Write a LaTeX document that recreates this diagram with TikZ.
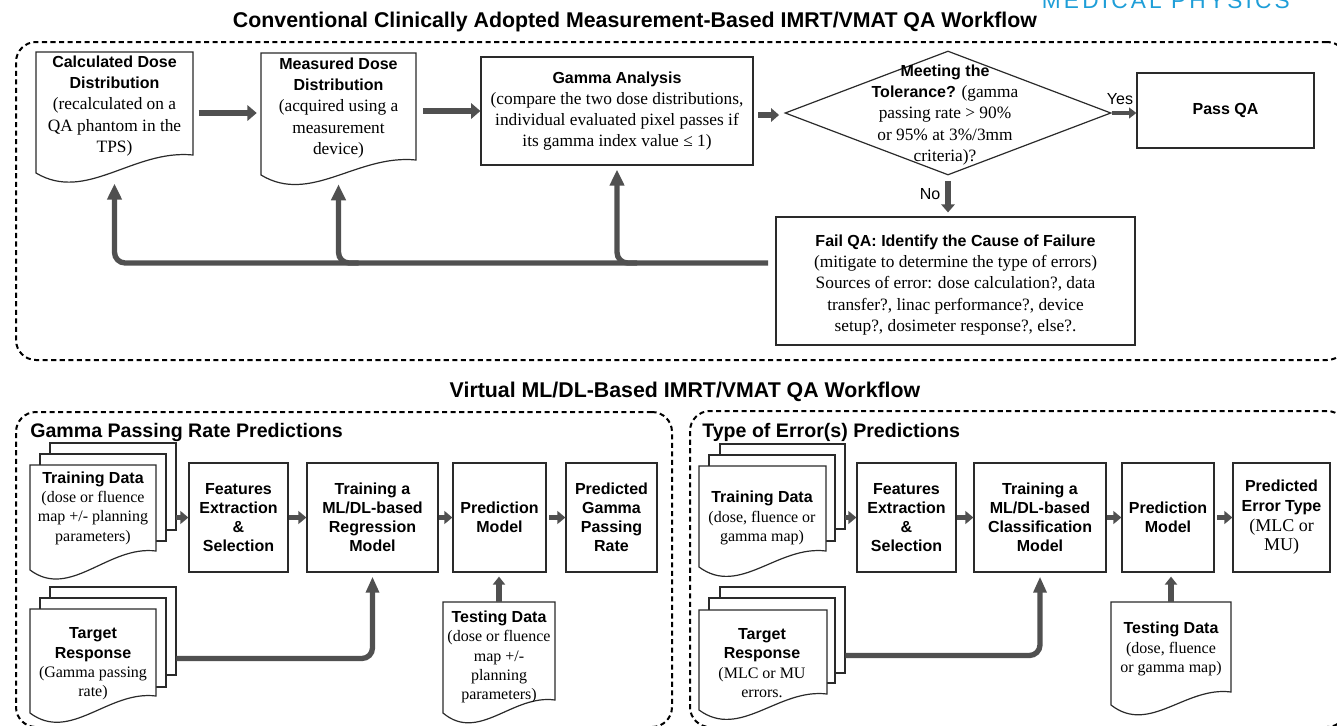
\documentclass[tikz,border=0pt]{standalone}
\usepackage{fontspec}
\setmainfont{Liberation Serif}
\setsansfont{Liberation Sans}
\newfontfamily\wmfont[LetterSpace=14]{Liberation Sans}
\usetikzlibrary{arrows.meta,shapes.geometric,fit,calc}
\definecolor{arr}{HTML}{505050}
\definecolor{wmblue}{HTML}{1E9ED8}
\definecolor{ln}{HTML}{2A2A2A}
\newcommand\hbt[1]{{\sffamily\bfseries\fontsize{12}{15.9}\selectfont #1}}
\newcommand\hbb[1]{{\sffamily\bfseries\fontsize{12}{14.5}\selectfont #1}}
\newcommand\docshape[6][]{\draw[docline,#1] (#2,#3) -- (#4,#3) -- (#4,#5) .. controls ({#2+0.62*(#4-#2)},{#5-6}) and ({#2+0.32*(#4-#2)},{#6+30}) .. (#2,#6) -- cycle;}
\begin{document}
\begin{tikzpicture}[x=0.75pt,y=-0.75pt,
 docline/.style={draw=ln, line width=0.9pt, fill=white},
 pg/.style={draw=ln, line width=0.9pt, fill=white},
 bx/.style={draw=ln, line width=0.9pt, inner sep=0pt, align=center},
 cbox/.style 2 args={minimum width={#1*0.75pt}, minimum height={#2*0.75pt}},
 hid/.style={inner sep=0pt},
 topf/.style={font=\fontsize{13}{15.9}\selectfont, align=center, inner sep=0pt},
 botf/.style={font=\fontsize{12}{14.5}\selectfont, align=center, inner sep=0pt},
 botb/.style={font=\sffamily\bfseries\fontsize{12}{14.3}\selectfont},
 ttl/.style={font=\sffamily\bfseries\fontsize{16}{18}\selectfont, inner sep=0pt},
 subt/.style={font=\sffamily\bfseries\fontsize{14.7}{17}\selectfont, inner sep=0pt, anchor=west},
 dframe/.style={draw=black, line width=1.5pt, dash pattern=on 3.8pt off 2.6pt, rounded corners=15pt, inner sep=0pt},
 marr/.style={draw=arr, line width=5pt, -{Triangle[length=7pt,width=11.5pt]}},
 carr/.style={draw=arr, line width=4.2pt, -{Triangle[length=6pt,width=10pt]}},
 yarr/.style={draw=arr, line width=3pt, -{Triangle[length=5.5pt,width=8pt]}},
 fb/.style={draw=arr, line width=4pt, rounded corners=8pt, -{Triangle[length=12pt,width=10.5pt]}},
 sarr/.style={draw=arr, line width=3.5pt, -{Triangle[length=6pt,width=9.5pt]}},
 uarr/.style={draw=arr, line width=4pt, -{Triangle[length=6pt,width=9pt]}},
 larr/.style={draw=arr, line width=4pt, rounded corners=8pt, -{Triangle[length=12pt,width=9.5pt]}},
 lbl/.style={font=\sffamily\fontsize{12}{14}\selectfont, inner sep=0pt}
]
\clip (0,0) rectangle (1337,725);
\fill[white] (0,0) rectangle (1337,725);

% watermark (cut off at the top)
\node[anchor=base east, text=wmblue, font=\wmfont\fontsize{17}{17}\selectfont, inner sep=0pt] (wm) at (1290,8) {MEDICAL PHYSICS};

% ---------------- top section ----------------
\node[ttl] (t1) at (635,22) {Conventional Clinically Adopted Measurement-Based IMRT/VMAT QA Workflow};
\node[dframe, fit={(16,42)(1347,360)}] (topframe) {};

% calculated dose
\docshape{36}{52}{193}{155}{173}
\node[hid, fit={(36,52)(193,182)}] (calc) {};
\node[topf] (calctxt) at (114.5,106) {\hbt{Calculated Dose}\\\hbt{Distribution}\\(recalculated on a\\QA phantom in the\\TPS)};

% measured dose
\docshape{261}{53}{416}{160}{175}
\node[hid, fit={(261,53)(416,184)}] (meas) {};
\node[topf] (meastxt) at (338.5,108) {\hbt{Measured Dose}\\\hbt{Distribution}\\(acquired using a\\measurement\\device)};

% gamma analysis
\node[bx, topf, draw=ln, line width=0.9pt, cbox={272}{108}] (gamma) at (617,111) {\hbt{Gamma Analysis}\\(compare the two dose distributions,\\individual evaluated pixel passes if\\its gamma index value ≤ 1)};

% tolerance diamond
\node[draw=ln, line width=0.9pt, diamond, minimum width=244.5pt, minimum height=93pt, inner sep=0pt] (tol) at (948,113) {};
\node[topf] (toltxt) at (945,115) {\hbt{Meeting the}\\\hbt{Tolerance?} (gamma\\passing rate > 90\%\\or 95\% at 3\%/3mm\\criteria)?};

% pass
\node[bx, cbox={177}{75}] (pass) at (1225.5,110.5) {\hbt{Pass QA}};

% fail
\node[bx, draw=ln, line width=0.9pt, cbox={359}{128}] (fail) at (955.5,281) {};
\node[topf] (failtxt) at (955.5,285) {\hbt{Fail QA: Identify the Cause of Failure}\\(mitigate to determine the type of errors)\\Sources of error: dose calculation?, data\\transfer?, linac performance?, device\\setup?, dosimeter response?, else?.};

% arrows top
\coordinate (ya) at (0,113);
\coordinate (yb) at (0,111);
\coordinate (yc) at (0,115);
\draw[marr, shorten <=4pt, shorten >=3pt] (calc.east |- ya) -- (meas.west |- ya);
\draw[marr, shorten <=5pt] (meas.east |- yb) -- (gamma.west |- yb);
\draw[carr, shorten <=3.5pt, shorten >=4pt] (gamma.east |- yc) -- (tol.west |- yc);
\draw[yarr] (tol.east) -- (pass.west |- tol.east);
\node[lbl] (yes) at (1120,99) {Yes};
\draw[carr, shorten <=4pt, shorten >=3pt] (tol.south) -- (fail.north -| tol.south);
\node[lbl] (no) at (930,194) {No};

% feedback loop
\coordinate (fbs) at (768,263);
\draw[fb, shorten >=1pt] (fbs) -| (calc.south);
\draw[fb] ($(meas.south |- fbs)+(20,0)$) -| (meas.south);
\draw[fb, shorten >=3pt] ($(gamma.south |- fbs)+(20,0)$) -| (gamma.south);

% ---------------- bottom section ----------------
\node[ttl] (t2) at (685,392) {Virtual ML/DL-Based IMRT/VMAT QA Workflow};
\node[dframe, fit={(16,412)(672,727)}] (leftframe) {};
\node[dframe, fit={(690,411)(1347,727)}] (rightframe) {};
\node[subt] (sub1) at (30,432) {Gamma Passing Rate Predictions};
\node[subt] (sub2) at (702,432) {Type of Error(s) Predictions};

% ---- left panel ----
\draw[pg] (50,443) rectangle (176,530);
\draw[pg] (40,454) rectangle (166,541);
\docshape{30}{465}{156}{551}{570}
\node[hid, fit={(30,443)(176,570)}] (trdL) {};
\node[botf] (trdLtxt) at (93,508) {\hbb{Training Data}\\(dose or fluence\\map +/- planning\\parameters)};

\node[bx, botb, cbox={99}{109}] (featL) at (238.5,517.5) {Features\\Extraction\\\&\\Selection};
\node[bx, botb, cbox={131}{109}] (trainL) at (372.5,517.5) {Training a\\ML/DL-based\\Regression\\Model};
\node[bx, botb, cbox={93}{109}] (predL) at (499.5,517.5) {Prediction\\Model};
\node[bx, botb, cbox={91}{109}] (outL) at (611.5,517.5) {Predicted\\Gamma\\Passing\\Rate};

\docshape{443}{602}{555}{700}{713}
\node[hid, fit={(443,602)(555,720)}] (testL) {};
\node[botf] (testLtxt) at (499,657) {\hbb{Testing Data}\\(dose or fluence\\map +/-\\planning\\parameters)};

\draw[pg] (50,587) rectangle (176,675);
\draw[pg] (40,598) rectangle (166,687);
\docshape{30}{609}{156}{696}{713}
\node[hid, fit={(30,587)(176,720)}] (tgtL) {};
\node[botf] (tgtLtxt) at (93,664) {\hbb{Target}\\\hbb{Response}\\(Gamma passing\\rate)};

\draw[sarr] (trdL.east |- featL.west) -- (featL.west);
\draw[sarr] (featL) -- (trainL);
\draw[sarr] (trainL) -- (predL);
\draw[sarr, shorten <=2pt] (predL) -- (outL);
\draw[uarr, shorten >=3pt] (testL.north) -- (testL.north |- predL.south);
\draw[larr, shorten >=3pt] ($(tgtL.east)+(0,5)$) -| (trainL.south);

% ---- right panel ----
\draw[pg] (720,444) rectangle (845,529);
\draw[pg] (709,455) rectangle (835,541);
\docshape{699}{466}{826}{551}{567}
\node[hid, fit={(699,444)(845,567)}] (trdR) {};
\node[botf] (trdRtxt) at (762,518) {\hbb{Training Data}\\(dose, fluence or\\gamma map)};

\node[bx, botb, cbox={99}{109}] (featR) at (906.5,517.5) {Features\\Extraction\\\&\\Selection};
\node[bx, botb, cbox={132}{109}] (trainR) at (1040,517.5) {Training a\\ML/DL-based\\Classification\\Model};
\node[bx, botb, cbox={92}{109}] (predR) at (1168,517.5) {Prediction\\Model};
\node[bx, cbox={97}{109}, font=\fontsize{13.5}{14.8}\selectfont] (outR) at (1281.5,517.5) {\hbb{Predicted}\\\hbb{Error Type}\\(MLC or\\MU)};

\docshape{1111}{602}{1231}{692}{705}
\node[hid, fit={(1111,602)(1231,712)}] (testR) {};
\node[botf] (testRtxt) at (1171,649) {\hbb{Testing Data}\\(dose, fluence\\or gamma map)};

\draw[pg] (720,587) rectangle (845,673);
\draw[pg] (709,598) rectangle (835,683);
\docshape{699}{610}{827}{694}{710}
\node[hid, fit={(699,587)(845,716)}] (tgtR) {};
\node[botf] (tgtRtxt) at (762,663) {\hbb{Target}\\\hbb{Response}\\(MLC or MU\\errors.};

\draw[sarr] (trdR.east |- featR.west) -- (featR.west);
\draw[sarr] (featR) -- (trainR);
\draw[sarr] (trainR) -- (predR);
\draw[sarr, shorten <=2pt] (predR) -- (outR);
\draw[uarr, shorten >=3pt] (testR.north) -- (testR.north |- predR.south);
\draw[larr, shorten >=3pt] ($(tgtR.east)+(0,4)$) -| (trainR.south);
\end{tikzpicture}
\end{document}
